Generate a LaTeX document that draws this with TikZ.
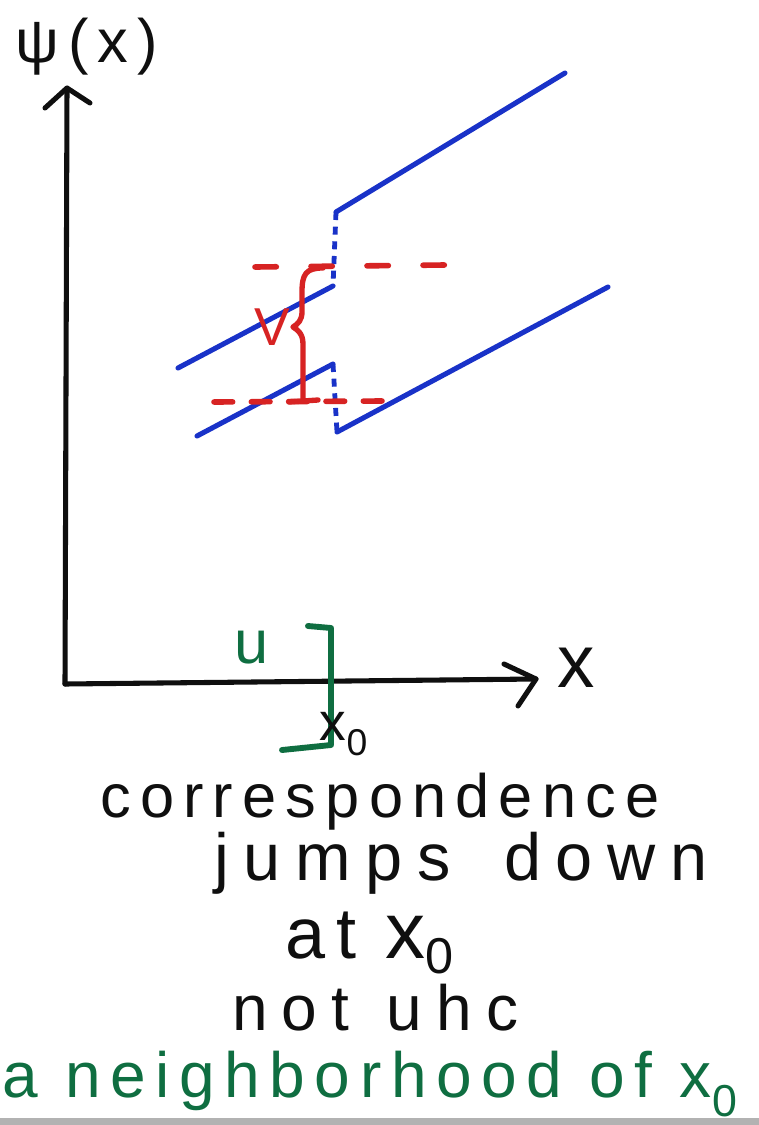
\documentclass[tikz,border=0pt]{standalone}
\usepackage{fontspec}
\setmainfont{Liberation Sans}
\newfontfamily\hand[LetterSpace=15]{Liberation Sans}
\newfontfamily\handwide[LetterSpace=22]{Liberation Sans}
\definecolor{inkblue}{RGB}{25,50,200}
\definecolor{inkred}{RGB}{215,35,35}
\definecolor{inkgreen}{RGB}{15,110,65}
\definecolor{inkblack}{RGB}{15,15,15}
\begin{document}
\begin{tikzpicture}[x=0.75pt,y=-0.75pt,
  ink/.style={line width=3.8pt,line cap=round,line join=round},
  axis/.style={ink,draw=inkblack},
  curve/.style={ink,draw=inkblue},
  jumpdash/.style={line width=3.6pt,draw=inkblue,dash pattern=on 6pt off 5pt},
  levdash/.style={line width=4.2pt,draw=inkred,line cap=round,dash pattern=on 16pt off 26pt},
  handtext/.style={inner sep=0pt,font=\hand\fontsize{46}{50}\selectfont,text=inkblack},
  greentext/.style={handtext,text=inkgreen}]
\useasboundingbox (0,0) rectangle (759,1125);
\fill[white] (0,0) rectangle (759,1125);
\fill[gray!60] (0,1118) rectangle (759,1125);
% axes
\coordinate (O) at (65,684);
\coordinate (ytip) at (67,88);
\coordinate (xtip) at (536,679);
\draw[axis] (O) -- (ytip);
\draw[axis] (45,108) -- (ytip) -- (90,103);
\draw[axis] (O) -- (xtip);
\draw[axis] (504,664) -- (xtip) -- (518,706);
\node[handtext,anchor=base west,font=\hand\fontsize{46}{50}\selectfont] (psi) at (15,62) {ψ(x)};
\node[handtext,font=\hand\fontsize{56}{60}\selectfont] (xlab) at (576,668) {x};
% blue branches
\coordinate (ur0) at (336,212); \coordinate (ur1) at (565,73);
\coordinate (ul0) at (178,368); \coordinate (ul1) at (333,286);
\coordinate (ll0) at (197,436); \coordinate (ll1) at (333,364);
\coordinate (lr0) at (337,432); \coordinate (lr1) at (608,287);
\draw[curve] (ur0) -- (ur1);
\draw[curve] (ul0) -- (ul1);
\draw[curve] (ll0) -- (ll1);
\draw[curve] (lr0) -- (lr1);
\draw[jumpdash] (ur0) -- (ul1);
\draw[jumpdash] (ll1) -- (lr0);
% red levels
\coordinate (ra) at (255,267); \coordinate (rb) at (445,265);
\coordinate (rc) at (214,402); \coordinate (rd) at (382,401);
\draw[levdash] (ra) -- (rb);
\draw[levdash,dash pattern=on 14pt off 14pt] (rc) -- (rd);
\draw[ink,draw=inkred,line width=4pt] (323,268) .. controls (306,268) and (302,274) .. (302,292)
  -- (302,312) .. controls (302,320) and (298,324) .. (293,327)
  .. controls (298,330) and (303,334) .. (303,344) -- (303,399);
\draw[ink,draw=inkred,line width=4pt] (289,402) -- (318,400);
\node[handtext,text=inkred,font=\hand\fontsize{40}{44}\selectfont] (V) at (272,327) {V};
% green neighbourhood
\coordinate (g0) at (308,626); \coordinate (g1) at (331,628);
\coordinate (g2) at (331,745); \coordinate (g3) at (282,750);
\draw[ink,draw=inkgreen,line width=4.4pt] (g0) -- (g1) -- (g2) -- (g3);
\node[greentext,font=\hand\fontsize{46}{50}\selectfont] (u) at (252,648) {u};
\node[handtext,font=\hand\fontsize{40}{44}\selectfont] (x0) at (344,734) {x\textsubscript{0}};
% texts
\node[handtext,anchor=base west] (t1) at (100,817) {correspondence};
\node[handtext,anchor=base west,font=\handwide\fontsize{50}{54}\selectfont] (t2) at (214,880) {jumps\hspace{40pt}down};
\node[handtext,anchor=base west,font=\hand\fontsize{54}{58}\selectfont] (t3) at (285,958) {at\hspace{22pt}{\fontsize{60}{64}\selectfont x}\raisebox{0.12em}{\textsubscript{0}}};
\node[handtext,anchor=base west,font=\handwide\fontsize{48}{52}\selectfont] (t4) at (232,1030) {not\hspace{28pt}uhc};
\node[greentext,anchor=base west,font=\hand\fontsize{48}{52}\selectfont] (t5) at (2,1097) {a neighborhood of x\textsubscript{0}};
\end{tikzpicture}
\end{document}
